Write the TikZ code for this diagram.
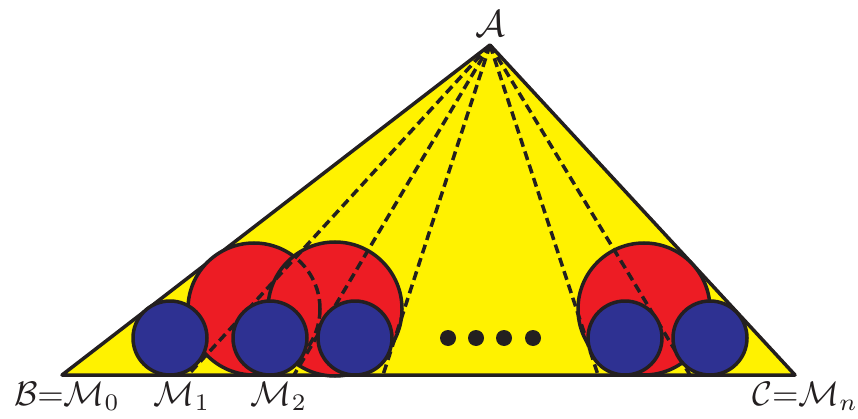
\documentclass[tikz,border=0pt]{standalone}
\definecolor{tyellow}{RGB}{255,242,0}
\definecolor{tred}{RGB}{237,28,36}
\definecolor{tblue}{RGB}{46,49,146}
\definecolor{tink}{RGB}{35,31,32}
\begin{document}
\begin{tikzpicture}[x=1pt,y=-1pt, line join=round,
  edge/.style={draw=tink, line width=3.5pt},
  redc/.style={fill=tred, draw=tink, line width=3.5pt},
  bluec/.style={fill=tblue, draw=tink, line width=3.5pt},
  cevian/.style={draw=tink, line width=3.5pt, dash pattern=on 9pt off 5pt},
  hidden/.style={draw=tink, line width=3.5pt, dash pattern=on 10pt off 5pt},
  lbl/.style={scale=3.4, text=tink, inner sep=0pt},
  dotm/.style={fill=tink}]
\useasboundingbox (0,0) rectangle (858,419);
% points
\coordinate (A) at (490,45);
\coordinate (B) at (62,375);
\coordinate (C) at (795,375);
\coordinate (M1) at (188,375);
\coordinate (M2) at (294,375);
\coordinate (M3) at (383,375);
\coordinate (Mk) at (598,375);
\coordinate (Ml) at (690,375);
% triangle
\path[fill=tyellow, edge] (A) -- (B) -- (C) -- cycle;
% red circles
\path[redc] (254,309) circle (66pt);
\path[redc] (335,309) circle (67pt);
\begin{scope}
  \clip (335,309) circle (67pt);
  \path[hidden] (254,309) circle (66pt);
\end{scope}
\path[redc] (644,309) circle (66pt);
% cevians
\draw[cevian] (A) -- (M1);
\draw[cevian] (A) -- (M2);
\draw[cevian] (A) -- (M3);
\draw[cevian] (A) -- (Mk);
\draw[cevian] (A) -- (Ml);
% blue circles
\path[bluec] (170,338) circle (37pt);
\path[bluec] (270,338) circle (37pt);
\path[bluec] (355,338) circle (37pt);
\path[bluec] (625,338) circle (37pt);
\path[bluec] (710,338) circle (37pt);
% dots
\fill[dotm] (448,338) circle (8pt);
\fill[dotm] (476,338) circle (8pt);
\fill[dotm] (504,338) circle (8pt);
\fill[dotm] (533,338) circle (8pt);
% labels
\node[lbl, scale=1.1] (lA) at (490,24) {$\mathcal{A}$};
\node[lbl] (lB) at (67,396) {$\mathcal{B}{=}\mathcal{M}_0$};
\node[lbl] (l1) at (182,396) {$\mathcal{M}_1$};
\node[lbl] (l2) at (279,396) {$\mathcal{M}_2$};
\node[lbl] (lC) at (805,396) {$\mathcal{C}{=}\mathcal{M}_n$};
\end{tikzpicture}
\end{document}
